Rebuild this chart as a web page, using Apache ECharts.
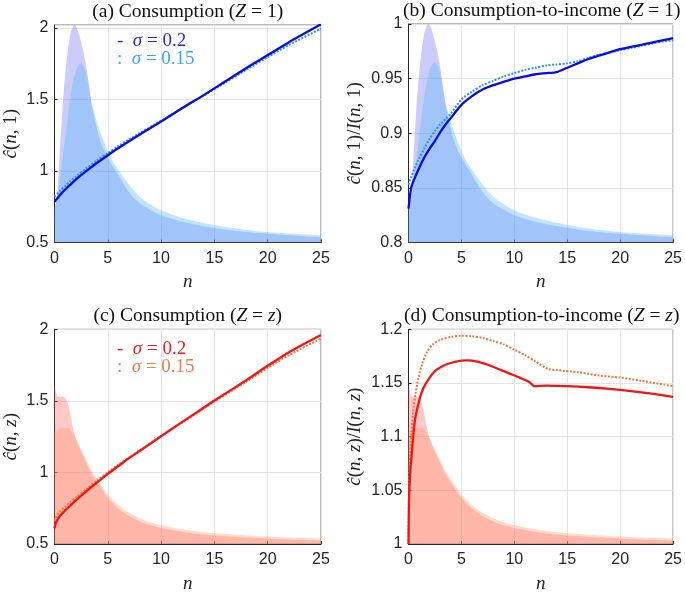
<!DOCTYPE html>
<html><head><meta charset="utf-8">
<script src="https://cdn.jsdelivr.net/npm/echarts@6/dist/echarts.min.js"></script>
<style>html,body{margin:0;padding:0;background:#fff}#c{width:685px;height:594px}</style>
</head><body><div id="c"></div>
<script>
// ---------- data ----------
// distribution of n (normalised density, 1 = peak), Z = 1
var distN1 = [0, 0.25, 0.5, 0.75, 1, 1.25, 1.5, 1.75, 1.9, 2, 2.25, 2.45, 2.75, 3, 3.25, 3.5, 4, 4.5, 5, 5.5, 6, 7, 8, 9, 10, 12, 14, 16, 18, 20, 22, 25];
var distA1 = [0.15, 0.22, 0.42, 0.62, 0.77, 0.88, 0.96, 0.995, 1.0, 0.995, 0.965, 0.93, 0.87, 0.80, 0.72, 0.63, 0.52, 0.44, 0.39, 0.35, 0.31, 0.23, 0.18, 0.15, 0.125, 0.095, 0.075, 0.06, 0.048, 0.04, 0.033, 0.024];
var distB1 = [0.16, 0.2, 0.28, 0.38, 0.48, 0.58, 0.67, 0.74, 0.77, 0.79, 0.815, 0.824, 0.81, 0.765, 0.705, 0.64, 0.55, 0.48, 0.42, 0.37, 0.333, 0.265, 0.21, 0.175, 0.148, 0.113, 0.09, 0.072, 0.058, 0.048, 0.041, 0.034];
// distribution of n, Z = z
var distNz = [0, 0.1, 0.25, 0.5, 0.75, 1, 1.25, 1.5, 1.75, 2, 2.5, 3, 3.5, 4, 4.5, 5, 6, 7, 8, 9, 10, 12, 14, 16, 18, 20, 22, 25];
var distAz = [0.74, 0.72, 0.69, 0.685, 0.687, 0.68, 0.655, 0.6, 0.54, 0.49, 0.43, 0.375, 0.325, 0.285, 0.25, 0.215, 0.165, 0.13, 0.105, 0.088, 0.074, 0.056, 0.044, 0.036, 0.03, 0.025, 0.021, 0.016];
var distBz = [0.52, 0.525, 0.53, 0.535, 0.54, 0.54, 0.54, 0.53, 0.51, 0.49, 0.44, 0.39, 0.34, 0.30, 0.265, 0.232, 0.18, 0.145, 0.12, 0.1, 0.087, 0.068, 0.055, 0.046, 0.04, 0.035, 0.03, 0.025];

// (a) consumption, Z = 1
var nA = [0, 0.5, 1, 1.5, 2, 3, 4, 5, 6, 8, 10, 12, 14, 16, 18, 20, 22, 25];
var cA_s20 = [0.785, 0.83, 0.87, 0.905, 0.94, 1.0, 1.057, 1.11, 1.16, 1.255, 1.345, 1.44, 1.53, 1.625, 1.72, 1.81, 1.9, 2.025];
var cA_s15 = [0.82, 0.86, 0.895, 0.93, 0.96, 1.02, 1.075, 1.125, 1.175, 1.265, 1.35, 1.44, 1.527, 1.617, 1.707, 1.795, 1.88, 1.995];
// (b) consumption-to-income, Z = 1
var nB = [0, 0.25, 0.5, 1, 1.5, 2, 2.5, 3, 3.5, 4, 5, 6, 7, 8, 9, 10, 11, 12, 13, 14, 15, 16, 17, 18, 19, 20, 21, 22, 23, 24, 25];
var rB_s20 = [0.831, 0.85, 0.857, 0.868, 0.878, 0.886, 0.893, 0.901, 0.908, 0.914, 0.926, 0.934, 0.94, 0.944, 0.947, 0.95, 0.952, 0.954, 0.955, 0.956, 0.96, 0.964, 0.968, 0.971, 0.974, 0.977, 0.979, 0.981, 0.983, 0.985, 0.987];
var rB_s15 = [0.853, 0.86, 0.866, 0.877, 0.886, 0.895, 0.902, 0.908, 0.913, 0.918, 0.931, 0.938, 0.944, 0.948, 0.952, 0.955, 0.958, 0.96, 0.962, 0.963, 0.964, 0.966, 0.969, 0.972, 0.974, 0.976, 0.978, 0.98, 0.982, 0.984, 0.985];
// (c) consumption, Z = z
var nC = [0, 0.1, 0.25, 0.5, 1, 1.5, 2, 3, 4, 5, 6, 7, 8, 10, 12, 15, 18, 20, 22, 25];
var cC_s20 = [0.61, 0.64, 0.665, 0.695, 0.735, 0.77, 0.805, 0.87, 0.93, 0.99, 1.045, 1.1, 1.15, 1.253, 1.353, 1.502, 1.645, 1.745, 1.84, 1.96];
var cC_s15 = [0.66, 0.68, 0.7, 0.725, 0.76, 0.795, 0.825, 0.885, 0.945, 1.0, 1.055, 1.105, 1.155, 1.255, 1.35, 1.495, 1.635, 1.73, 1.82, 1.935];
// (d) consumption-to-income, Z = z
var nD20 = [0, 0.05, 0.15, 0.3, 0.6, 1, 1.4, 2, 2.6, 3.5, 4.5, 5.5, 6.5, 7.5, 8.5, 9.5, 10.5, 11.4, 11.9, 13, 15, 17, 19, 21, 23, 25];
var rD_s20 = [1.0, 1.04, 1.065, 1.083, 1.115, 1.133, 1.145, 1.155, 1.162, 1.167, 1.17, 1.171, 1.17, 1.167, 1.163, 1.159, 1.155, 1.151, 1.147, 1.1475, 1.147, 1.146, 1.1445, 1.1425, 1.14, 1.137];
var nD15 = [0, 0.05, 0.1, 0.2, 0.43, 0.7, 0.92, 1.3, 1.7, 2.3, 3, 4, 5, 6, 7, 8, 9, 10, 11, 12, 13.2, 14, 16, 18, 20, 22, 25];
var rD_s15 = [1.0, 1.05, 1.07, 1.093, 1.123, 1.142, 1.154, 1.168, 1.178, 1.186, 1.19, 1.193, 1.194, 1.1935, 1.192, 1.189, 1.186, 1.181, 1.176, 1.17, 1.163, 1.162, 1.16, 1.157, 1.155, 1.152, 1.147];

// ---------- chart ----------
function pairs(xs, ys) { return xs.map(function (x, i) { return [x, ys[i]]; }); }

var SERIF = "'Liberation Serif', 'DejaVu Serif', serif";
var SANS = "'Liberation Sans Narrow', 'Liberation Sans', Arial, sans-serif";
var TXT = '#262626';
var richMath = {
  i: { fontFamily: SERIF, fontStyle: 'italic', fontSize: 19, color: TXT },
  u: { fontFamily: SERIF, fontSize: 19, color: TXT }
};
var richTitle = {
  i: { fontFamily: SERIF, fontStyle: 'italic', fontSize: 19.5, fill: '#111' },
  u: { fontFamily: SERIF, fontSize: 19.5, fill: '#111' }
};

var panels = [
  { left: 54.5, top: 25, height: 217.5, ymin: 0.5, ymax: 2.02, yint: 0.5,
    yname: '{i|ĉ}{u|(}{i|n}{u|, 1)}', title: '{u|(a) Consumption (}{i|Z}{u| = 1)}' },
  { left: 408.5, top: 24, height: 218.5, ymin: 0.8, ymax: 1.0, yint: 0.05,
    yname: '{i|ĉ}{u|(}{i|n}{u|, 1)/}{i|I}{u|(}{i|n}{u|, 1)}', title: '{u|(b) Consumption-to-income (}{i|Z}{u| = 1)}' },
  { left: 54.5, top: 329.3, height: 219, ymin: 0.5, ymax: 2.0, yint: 0.5,
    yname: '{i|ĉ}{u|(}{i|n}{u|, }{i|z}{u|)}', title: '{u|(c) Consumption (}{i|Z}{u| = }{i|z}{u|)}' },
  { left: 408.5, top: 329.3, height: 219, ymin: 1.0, ymax: 1.2, yint: 0.05,
    yname: '{i|ĉ}{u|(}{i|n}{u|, }{i|z}{u|)/}{i|I}{u|(}{i|n}{u|, }{i|z}{u|)}', title: '{u|(d) Consumption-to-income (}{i|Z}{u| = }{i|z}{u|)}' }
];
var W = 266.5;

var grid = [], xAxis = [], yAxis = [], series = [], graphic = [];
panels.forEach(function (p, k) {
  grid.push({ left: p.left, top: p.top, width: W, height: p.height, show: true,
    borderColor: '#555', borderWidth: 0.8, backgroundColor: 'transparent' });
  xAxis.push({ type: 'value', gridIndex: k, min: 0, max: 25, interval: 5,
    name: 'n', nameLocation: 'middle', nameGap: 30,
    nameTextStyle: { fontFamily: SERIF, fontStyle: 'italic', fontSize: 19, color: TXT },
    axisLine: { onZero: false, lineStyle: { color: TXT, width: 1 } },
    axisTick: { inside: true, length: 3, lineStyle: { color: TXT } },
    axisLabel: { fontFamily: SANS, fontSize: 16, color: TXT, margin: 8 },
    splitLine: { show: true, lineStyle: { color: '#e3e3e3', width: 1 } } });
  yAxis.push({ type: 'value', gridIndex: k, min: p.ymin, max: p.ymax, interval: p.yint,
    name: p.yname, nameLocation: 'middle', nameGap: k % 2 === 0 ? 34 : 44, nameRotate: 90,
    nameTextStyle: { rich: richMath },
    axisLine: { show: true, onZero: false, lineStyle: { color: TXT, width: 1 } },
    axisTick: { inside: true, length: 3, lineStyle: { color: TXT } },
    axisLabel: { fontFamily: SANS, fontSize: 16, color: TXT, margin: 6, showMaxLabel: p.ymax === 1.0 || p.ymax === 2.0 || p.ymax === 1.2 },
    splitLine: { show: true, lineStyle: { color: '#e3e3e3', width: 1 } } });
  graphic.push({ type: 'text', x: p.left + W / 2, y: p.top - 13,
    style: { text: p.title, rich: richTitle, align: 'center', verticalAlign: 'middle' } });
});
// hidden density axes (index 4..7)
panels.forEach(function (p, k) {
  yAxis.push({ type: 'value', gridIndex: k, min: 0, max: 1, show: false, splitLine: { show: false } });
});

function area(k, xs, ys, color) {
  series.push({ type: 'line', xAxisIndex: k, yAxisIndex: 4 + k, data: pairs(xs, ys),
    symbol: 'none', smooth: 0.25, silent: true,
    lineStyle: { width: 0 }, areaStyle: { color: color, opacity: 1 }, z: 1 });
}
function line(k, xs, ys, color, width, type) {
  series.push({ type: 'line', xAxisIndex: k, yAxisIndex: k, data: pairs(xs, ys),
    symbol: 'none', smooth: 0.25, silent: true,
    lineStyle: { color: color, width: width, type: type }, z: 3 });
}
var BLUE_A = 'rgba(110,110,240,0.35)', BLUE_B = 'rgba(80,180,245,0.35)';
var RED_A = 'rgba(255,110,110,0.38)', RED_B = 'rgba(250,150,110,0.35)';
var C_BLUE = 'rgb(10,10,225)', C_CYAN = 'rgb(40,150,225)';
var C_RED = 'rgb(245,20,20)', C_ORANGE = 'rgb(232,120,60)';

[0, 1].forEach(function (k) { area(k, distN1, distA1, BLUE_A); area(k, distN1, distB1, BLUE_B); });
[2, 3].forEach(function (k) { area(k, distNz, distAz, RED_A); area(k, distNz, distBz, RED_B); });

line(0, nA, cA_s15, C_CYAN, 2, [2, 1.5]);
line(0, nA, cA_s20, C_BLUE, 2.3, 'solid');
line(1, nB, rB_s15, C_CYAN, 2, [2, 1.5]);
line(1, nB, rB_s20, C_BLUE, 2.3, 'solid');
line(2, nC, cC_s15, C_ORANGE, 2, [2, 1.5]);
line(2, nC, cC_s20, C_RED, 2.3, 'solid');
line(3, nD15, rD_s15, C_ORANGE, 2, [2, 1.5]);
line(3, nD20, rD_s20, C_RED, 2.3, 'solid');

function legendText(x, y, txt, color) {
  graphic.push({ type: 'text', x: x, y: y, z: 10,
    style: { text: txt, align: 'left', verticalAlign: 'middle', fill: color,
      rich: { i: { fontFamily: SERIF, fontStyle: 'italic', fontSize: 19, fill: color },
              u: { fontFamily: SERIF, fontSize: 19, fill: color } } } });
}
legendText(117, 41, '{u|-  }{i|σ}{u| = 0.2}', 'rgb(40,40,220)');
legendText(117, 59, '{u|:  }{i|σ}{u| = 0.15}', 'rgb(50,170,230)');
legendText(117, 349, '{u|-  }{i|σ}{u| = 0.2}', 'rgb(240,30,30)');
legendText(117, 367, '{u|:  }{i|σ}{u| = 0.15}', 'rgb(235,125,70)');

var chart = echarts.init(document.getElementById('c'), null, { renderer: 'canvas' });
chart.setOption({ animation: false, backgroundColor: '#fff', grid: grid, xAxis: xAxis, yAxis: yAxis, series: series, graphic: graphic });
</script></body></html>
